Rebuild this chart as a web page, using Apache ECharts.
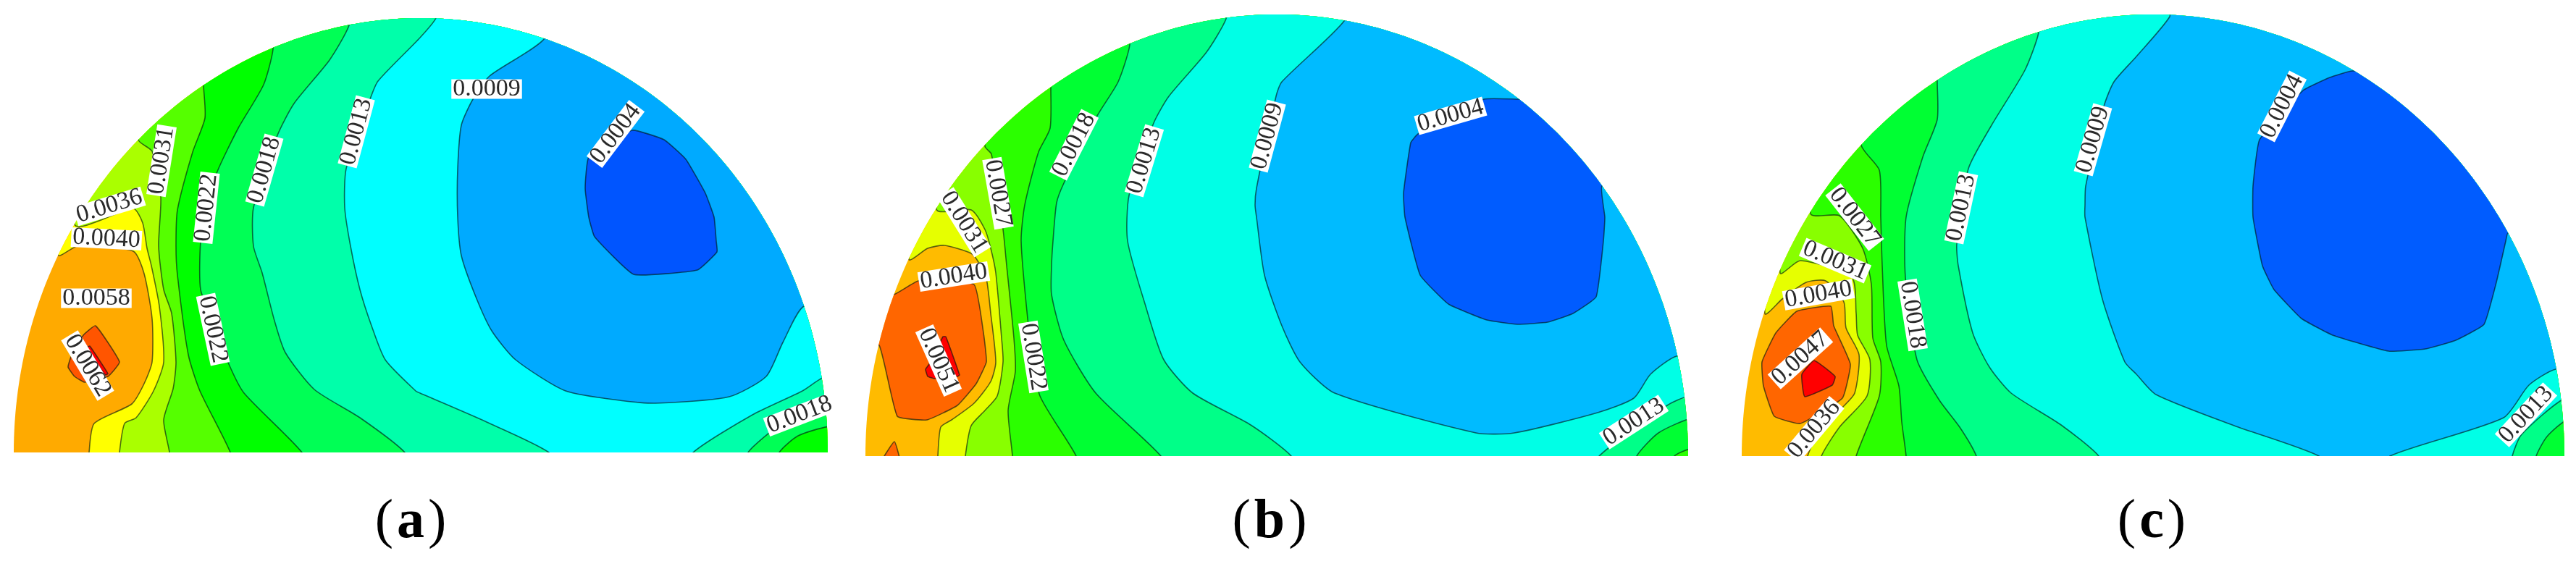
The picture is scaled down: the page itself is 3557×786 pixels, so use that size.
<!DOCTYPE html>
<html><head><meta charset="utf-8">
<style>html,body{margin:0;padding:0;background:#fff}#c{width:3557px;height:786px}</style>
<script src="https://cdn.jsdelivr.net/npm/echarts@6/dist/echarts.min.js"></script>
</head><body><div id="c"></div>
<script>
// Domain extents of each semi-ellipse: left, right, top, baseline (picture units)
const outlineA = [19, 1143, 25, 625];
const outlineB = [1195, 2331, 20, 630];
const outlineC = [2405, 3541, 20, 630];

// Band colours
const colorsA = ['#ffaa00','#ffff00','#aaff00','#55ff00','#00ff00','#00ff55','#00ffaa','#00ffff','#00aaff','#0055ff','#ff5500','#ff0000'];
const colorsBC = ['#ffbb00','#e6ff00','#88ff00','#2bff00','#00ff33','#00ff88','#00ffe6','#00bbff','#005cff','#ff6600','#ff0000'];

// ---- Panel (a) iso-contours
const a1 = [[80,352],[109,339],[184,347],[199,378],[210,440],[210,500],[199,530],[182,558],[130,585],[123,625]];
const a2 = [[103,310],[184,288],[197,308],[203,343],[209,367],[220,423],[226,500],[212,540],[188,577],[172,585],[165,625]];
const a3 = [[191,193],[210,209],[222,272],[219,340],[226,400],[237,433],[243,500],[239,537],[226,580],[234,625]];
const a4 = [[281,117],[283,163],[266,210],[245,290],[243,340],[245,380],[260,490],[276,540],[318,625]];
const a5 = [[377,68],[364,117],[329,177],[300,237],[285,285],[277,333],[277,400],[296,450],[316,503],[337,543],[417,625]];
const a5r = [[1076,625],[1102,602],[1145,589]];
const a6 = [[482,35],[455,83],[406,143],[383,187],[350,287],[350,340],[362,377],[379,443],[394,487],[434,538],[497,577],[559,625]];
const a6r = [[1033,625],[1062,598],[1100,570],[1145,560]];
const a7 = [[602,25],[580,52],[522,112],[511,137],[478,233],[476,287],[484,340],[497,400],[513,450],[532,497],[574,540],[580,543],[672,583],[758,625]];
const a7r = [[957,625],[1039,573],[1108,540],[1140,520]];
const a8 = [[752,53],[676,105],[653,137],[637,173],[632,233],[632,300],[637,353],[657,410],[679,457],[712,497],[781,540],[863,554],[905,557],[1007,548],[1058,520],[1081,473],[1110,423],[1170,423]];
const a9 = [[873,180],[813,217],[808,260],[813,300],[821,327],[875,379],[963,373],[990,348],[989,333],[986,300],[974,267],[947,220],[917,193]];
const a10 = [[132,450],[165,500],[149,520],[117,528],[103,520],[94,507],[98,493],[115,463]];
const a11 = [[120,480],[124,478],[149,516],[145,518]];

// ---- Panel (b) iso-contours
const b1 = [[1255,358],[1281,343],[1304,339],[1341,350],[1351,362],[1362,385],[1368,433],[1375,500],[1368,527],[1345,557],[1314,580],[1299,590],[1295,630]];
const b2 = [[1293,289],[1341,290],[1360,317],[1368,343],[1375,377],[1383,467],[1385,500],[1377,547],[1360,567],[1341,588],[1333,630]];
const b3 = [[1360,202],[1369,213],[1385,317],[1390,367],[1400,467],[1402,513],[1392,567],[1398,630]];
const b4 = [[1451,122],[1450,177],[1434,210],[1415,283],[1410,333],[1419,440],[1425,480],[1436,547],[1486,630]];
const b4r = [[2312,630],[2335,620]];
const b5 = [[1560,62],[1544,113],[1515,160],[1469,253],[1459,280],[1454,333],[1452,367],[1452,407],[1469,470],[1513,543],[1603,630]];
const b5r = [[2260,630],[2290,598],[2335,578]];
const b6 = [[1693,26],[1666,72],[1614,133],[1593,170],[1559,270],[1557,333],[1582,423],[1607,497],[1647,543],[1727,587],[1783,630]];
const b6r = [[2208,630],[2302,560],[2332,547]];
const b7 = [[1856,29],[1770,113],[1762,133],[1735,260],[1733,283],[1735,300],[1746,380],[1770,450],[1795,500],[1843,543],[2038,598],[2091,598],[2206,570],[2256,550],[2279,517],[2315,492],[2375,492]];
const b8 = [[2097,137],[2049,137],[1958,185],[1948,197],[1938,267],[1940,300],[1961,380],[2000,420],[2053,442],[2095,448],[2137,445],[2172,433],[2204,410],[2214,333],[2216,300],[2212,257],[2270,257],[2270,137]];
const b9 = [[1234,407],[1268,388],[1345,393],[1358,460],[1362,500],[1348,530],[1322,560],[1280,580],[1239,575],[1214,477],[1180,477],[1180,407]];
const b9b = [[1216,640],[1235,610],[1243,640]];
const b10 = [[1302,465],[1306,465],[1325,518],[1322,520],[1291,523],[1281,520],[1278,510],[1283,503]];

// ---- Panel (c) iso-contours
const c1 = [[2437,433],[2461,413],[2494,390],[2521,388],[2546,417],[2549,453],[2567,490],[2561,543],[2544,563],[2510,600],[2496,630]];
const c2 = [[2458,377],[2486,360],[2557,383],[2563,433],[2565,463],[2582,497],[2578,547],[2540,590],[2515,630]];
const c3 = [[2500,295],[2540,298],[2572,343],[2584,393],[2586,467],[2597,500],[2595,547],[2563,630]];
const c4 = [[2570,200],[2595,235],[2597,300],[2599,367],[2605,477],[2622,533],[2626,583],[2632,630]];
const c5 = [[2675,113],[2675,165],[2655,217],[2632,300],[2631,383],[2647,497],[2678,553],[2706,590],[2729,630]];
const c5r = [[3502,630],[3517,603],[3545,580]];
const c6 = [[2815,45],[2796,97],[2750,173],[2718,233],[2702,337],[2704,367],[2724,460],[2747,507],[2777,543],[2846,587],[2898,630]];
const c6r = [[3469,630],[3482,600],[3542,550]];
const c7 = [[2996,23],[2950,78],[2919,113],[2905,147],[2880,257],[2879,283],[2879,300],[2903,413],[2934,500],[2950,517],[2977,545],[3085,588],[3202,630],[3202,650],[3300,650],[3300,630],[3457,577],[3492,532],[3529,510],[3590,510]];
const c8 = [[3248,98],[3217,107],[3180,125],[3120,193],[3111,257],[3111,300],[3124,367],[3140,400],[3178,440],[3221,463],[3298,485],[3349,482],[3391,470],[3430,448],[3447,390],[3460,333],[3463,322],[3530,322],[3530,98]];
const c9 = [[2481,430],[2528,423],[2532,450],[2555,503],[2544,550],[2486,585],[2450,575],[2435,533],[2433,500],[2452,460]];
const c10 = [[2505,498],[2534,520],[2530,532],[2492,548],[2488,517]];

// ---- Contour labels: text, x, y, angle (deg)
const labelsA = [['0.0036',151,285,17],['0.0040',147,330,-3],['0.0031',223,222,81],['0.0022',285,287,84],['0.0018',365,235,74],['0.0013',492,182,75],['0.0022',294,455,-78],['0.0058',133,412,0],['0.0062',121,505,-59],['0.0009',672,123,0],['0.0004',850,185,53],['0.0018',1104,573,21]];
const labelsB = [['0.0027',1378,267,-80],['0.0031',1331,307,-58],['0.0018',1483,200,63],['0.0013',1580,222,73],['0.0009',1750,188,75],['0.0040',1317,382,9],['0.0051',1296,498,-66],['0.0022',1427,493,-81],['0.0004',2003,160,16],['0.0013',2256,583,33]];
const labelsC = [['0.0027',2561,300,-52],['0.0013',2708,287,78],['0.0009',2890,193,74],['0.0031',2534,360,-23],['0.0040',2511,407,10],['0.0047',2486,495,42],['0.0036',2505,593,50],['0.0018',2641,435,-81],['0.0004',3151,147,63],['0.0013',3488,573,47]];

// Captions: letter, x, y
const captions = [['a',567,722],['b',1753,722],['c',2971,722]];

// Layers, painted in order. left/right contours are closed around the outside of the domain; "island" polygons are drawn as read.
const panels = [
 {outline:outlineA, base:colorsA[0], layers:[
  {c:colorsA[1],l:a1},{c:colorsA[2],l:a2},{c:colorsA[3],l:a3},{c:colorsA[4],l:a4},
  {c:colorsA[5],l:a5,r:a5r},{c:colorsA[6],l:a6,r:a6r},{c:colorsA[7],l:a7,r:a7r},{c:colorsA[8],l:a8},
  {c:colorsA[9],p:a9},{c:colorsA[10],p:a10},{c:colorsA[11],p:a11}]},
 {outline:outlineB, base:colorsBC[0], layers:[
  {c:colorsBC[1],l:b1},{c:colorsBC[2],l:b2},{c:colorsBC[3],l:b3},
  {c:colorsBC[4],l:b4,r:b4r},{c:colorsBC[5],l:b5,r:b5r},{c:colorsBC[6],l:b6,r:b6r},{c:colorsBC[7],l:b7},
  {c:colorsBC[8],p:b8},{c:colorsBC[9],p:b9},{c:colorsBC[9],p:b9b},{c:colorsBC[10],p:b10}]},
 {outline:outlineC, base:colorsBC[0], layers:[
  {c:colorsBC[1],l:c1},{c:colorsBC[2],l:c2},{c:colorsBC[3],l:c3},{c:colorsBC[4],l:c4},
  {c:colorsBC[5],l:c5,r:c5r},{c:colorsBC[6],l:c6,r:c6r},{c:colorsBC[7],l:c7},
  {c:colorsBC[8],p:c8},{c:colorsBC[9],p:c9},{c:colorsBC[10],p:c10}]}
];

function layerPoints(layer, o){
  if(layer.p) return layer.p;
  const pad = 20, xr = o[1]+45, yb = o[3]+pad, yt = o[2]-pad;
  const l = layer.l, pts = l.slice();
  pts.push([l[l.length-1][0], yb]);
  if(layer.r){
    pts.push([layer.r[0][0], yb]);
    layer.r.forEach(p=>pts.push(p));
    pts.push([xr, layer.r[layer.r.length-1][1]]);
  }
  pts.push([xr, yb]);
  pts.push([xr, yt]);
  pts.push([l[0][0], yt]);
  return pts;
}
function domainPath(api, o){
  const cx=(o[0]+o[1])/2, rx=(o[1]-o[0])/2, ry=o[3]-o[2], pts=[];
  for(let i=0;i<=180;i++){
    const t=Math.PI*i/180;
    pts.push(api.coord([cx-rx*Math.cos(t), o[3]-ry*Math.sin(t)]));
  }
  return pts;
}
const series = [];
panels.forEach(function(panel){
  const items=[{c:panel.base,base:true}].concat(panel.layers);
  series.push({
    type:'custom', coordinateSystem:'cartesian2d', silent:true, animation:false, clip:false,
    data:items.map((_,i)=>[i,0]),
    encode:{x:0,y:1},
    renderItem:function(params,api){
      const it=items[api.value(0)], clip={type:'polygon',shape:{points:domainPath(api,panel.outline)}};
      if(it.base){
        return {type:'polygon',shape:{points:clip.shape.points},style:{fill:it.c,stroke:null}};
      }
      return {type:'polygon',clipPath:clip,
        shape:{points:layerPoints(it,panel.outline).map(p=>api.coord(p)),smooth:it.p?0.12:0.22},
        style:{fill:it.c,stroke:'rgba(0,20,20,0.62)',lineWidth:1.6,lineJoin:'round'}};
    }
  });
});
const allLabels=labelsA.concat(labelsB,labelsC);
series.push({
  type:'custom', coordinateSystem:'cartesian2d', silent:true, animation:false, clip:false, z:5,
  data:allLabels.map((l,i)=>[i,0]), encode:{x:0,y:1},
  renderItem:function(params,api){
    const l=allLabels[api.value(0)], p=api.coord([l[1],l[2]]);
    return {type:'text',x:p[0],y:p[1],rotation:l[3]*Math.PI/180,
      style:{text:l[0],align:'center',verticalAlign:'middle',fill:'#2a2a2a',
        fontFamily:'Liberation Serif',fontSize:34,lineHeight:27,backgroundColor:'#fff',padding:[0,2]}};
  }
});
series.push({
  type:'custom', coordinateSystem:'cartesian2d', silent:true, animation:false, clip:false, z:5,
  data:captions.map((l,i)=>[i,0]), encode:{x:0,y:1},
  renderItem:function(params,api){
    const l=captions[api.value(0)], p=api.coord([l[1],l[2]]);
    return {type:'text',x:p[0],y:p[1],
      style:{text:'{p|(}{b|'+l[0]+'}{p|)}',align:'center',verticalAlign:'middle',
        rich:{p:{fontFamily:'Liberation Serif',fontSize:76,fill:'#000'},
              b:{fontFamily:'Liberation Serif',fontWeight:'bold',fontSize:76,fill:'#000',padding:[0,5]}}}};
  }
});
const chart=echarts.init(document.getElementById('c'),null,{renderer:'canvas'});
chart.setOption({
  animation:false, backgroundColor:'#fff',
  grid:{left:0,right:0,top:0,bottom:0},
  xAxis:{type:'value',min:0,max:3557,show:false},
  yAxis:{type:'value',min:0,max:786,inverse:true,show:false},
  series:series
});
</script></body></html>
